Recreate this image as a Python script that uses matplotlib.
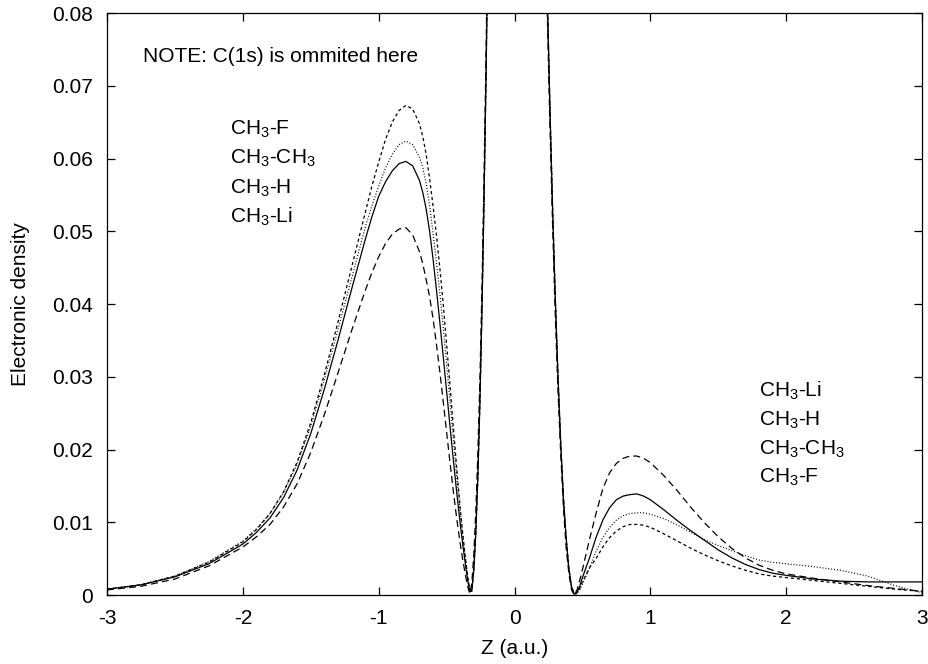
import matplotlib
matplotlib.use("Agg")
import matplotlib.pyplot as plt

plt.rcParams['font.family'] = ['Liberation Sans', 'DejaVu Sans']
plt.rcParams['mathtext.fontset'] = 'custom'
plt.rcParams['mathtext.rm'] = 'Liberation Sans'
plt.rcParams['mathtext.it'] = 'Liberation Sans:italic'
plt.rcParams['axes.unicode_minus'] = False
plt.rcParams['lines.scale_dashes'] = False

# Z grid (a.u.) and densities, one row per region
z = [-3.0, -2.75, -2.5, -2.25, -2.0, -1.9, -1.8, -1.7, -1.6, -1.5, -1.4, -1.3, -1.2,
     -1.1, -1.05, -1.0, -0.95, -0.9, -0.85, -0.8, -0.75, -0.7, -0.675, -0.65, -0.625,
     -0.6, -0.575, -0.55, -0.525, -0.5, -0.475, -0.45, -0.425, -0.4, -0.38, -0.36, -0.345, -0.33,
     -0.315, -0.3, -0.285, -0.27, -0.255, -0.24, -0.225, -0.21, -0.195, -0.18,
     -0.1, 0.0, 0.1,
     0.18, 0.2, 0.22, 0.24, 0.26, 0.28, 0.3, 0.32, 0.34, 0.36, 0.38, 0.4, 0.42, 0.44, 0.46,
     0.48, 0.5, 0.55, 0.6, 0.65, 0.7, 0.75, 0.8, 0.85, 0.9, 0.95, 1.0,
     1.1, 1.2, 1.3, 1.4, 1.5, 1.6, 1.7, 1.8, 1.9, 2.0, 2.2, 2.4, 2.6, 2.8, 3.0]

ch3_f = [0.0008, 0.0014, 0.0026, 0.0045, 0.0073, 0.0090, 0.0112, 0.0142, 0.0183, 0.0237, 0.0303, 0.0375, 0.0450,
         0.0525, 0.0562, 0.0595, 0.0626, 0.0650, 0.0666, 0.0673, 0.0668, 0.0648, 0.0630, 0.0605, 0.0572,
         0.0535, 0.0495, 0.0450, 0.0400, 0.0345, 0.0288, 0.0230, 0.0173, 0.0120, 0.0082, 0.0048, 0.0026, 0.0008,
         0.0005, 0.0034, 0.0086, 0.0163, 0.0265, 0.0390, 0.0540, 0.0710, 0.0910, 0.1130,
         0.30, 0.45, 0.35,
         0.150, 0.125, 0.101, 0.0833, 0.0674, 0.0532, 0.0408, 0.0300, 0.0208, 0.0133, 0.0078, 0.0036, 0.0011, 0.0001, 0.0003,
         0.0009, 0.0018, 0.0037, 0.0050, 0.0066, 0.0079, 0.0088, 0.0094, 0.0097, 0.0097, 0.0096, 0.0093,
         0.0084, 0.0074, 0.0064, 0.0055, 0.0047, 0.0040, 0.0034, 0.0029, 0.0026, 0.0024, 0.0020, 0.0016, 0.0012, 0.0008, 0.0005]

ch3_ch3 = [0.0008, 0.0014, 0.0026, 0.0046, 0.0074, 0.0091, 0.0112, 0.0141, 0.0180, 0.0232, 0.0296, 0.0365, 0.0435,
           0.0505, 0.0535, 0.0562, 0.0587, 0.0606, 0.0619, 0.0624, 0.0619, 0.0602, 0.0587, 0.0565, 0.0535,
           0.0498, 0.0458, 0.0415, 0.0368, 0.0318, 0.0266, 0.0213, 0.0162, 0.0115, 0.0079, 0.0047, 0.0025, 0.0007,
           0.0005, 0.0034, 0.0086, 0.0163, 0.0265, 0.0390, 0.0540, 0.0710, 0.0910, 0.1130,
           0.30, 0.45, 0.35,
           0.150, 0.125, 0.101, 0.0833, 0.0674, 0.0532, 0.0408, 0.0300, 0.0208, 0.0133, 0.0078, 0.0036, 0.0011, 0.0001, 0.0002,
           0.0007, 0.0015, 0.0036, 0.0060, 0.0079, 0.0093, 0.0103, 0.0109, 0.0112, 0.0113, 0.0113, 0.0111,
           0.0105, 0.0096, 0.0086, 0.0076, 0.0068, 0.0061, 0.0054, 0.0048, 0.0045, 0.0043, 0.0039, 0.0034, 0.0026, 0.0013, 0.0003]

ch3_h = [0.0008, 0.0014, 0.0025, 0.0043, 0.0070, 0.0086, 0.0106, 0.0134, 0.0172, 0.0222, 0.0283, 0.0350, 0.0420,
         0.0488, 0.0520, 0.0548, 0.0568, 0.0583, 0.0593, 0.0596, 0.0590, 0.0570, 0.0553, 0.0530, 0.0500,
         0.0462, 0.0420, 0.0375, 0.0328, 0.0280, 0.0232, 0.0185, 0.0140, 0.0098, 0.0068, 0.0040, 0.0020, 0.0005,
         0.0005, 0.0034, 0.0086, 0.0163, 0.0265, 0.0390, 0.0540, 0.0710, 0.0910, 0.1130,
         0.30, 0.45, 0.35,
         0.150, 0.125, 0.101, 0.0833, 0.0674, 0.0532, 0.0408, 0.0300, 0.0208, 0.0133, 0.0078, 0.0036, 0.0011, 0.0001, 0.0004,
         0.0012, 0.0024, 0.0050, 0.0079, 0.0103, 0.0120, 0.0131, 0.0136, 0.0138, 0.0139, 0.0136, 0.0131,
         0.0117, 0.0102, 0.0088, 0.0075, 0.0062, 0.0051, 0.0042, 0.0035, 0.0030, 0.0027, 0.0022, 0.0019, 0.0018, 0.0018, 0.0018]

ch3_li = [0.0007, 0.0012, 0.0022, 0.0040, 0.0066, 0.0080, 0.0097, 0.0121, 0.0153, 0.0196, 0.0248, 0.0305, 0.0363,
          0.0418, 0.0443, 0.0465, 0.0483, 0.0496, 0.0503, 0.0505, 0.0495, 0.0472, 0.0455, 0.0433, 0.0410,
          0.0380, 0.0345, 0.0307, 0.0266, 0.0224, 0.0182, 0.0142, 0.0104, 0.0071, 0.0047, 0.0026, 0.0012, 0.0002,
          0.0015, 0.0055, 0.0115, 0.0195, 0.0295, 0.0420, 0.0570, 0.0740, 0.0940, 0.1160,
          0.30, 0.45, 0.35,
          0.150, 0.123, 0.099, 0.0810, 0.0650, 0.0510, 0.0385, 0.0280, 0.0195, 0.0120, 0.0065, 0.0030, 0.0007, 0.0000, 0.0007,
          0.0020, 0.0035, 0.0075, 0.0112, 0.0146, 0.0168, 0.0181, 0.0188, 0.0191, 0.0191, 0.0188, 0.0182,
          0.0164, 0.0143, 0.0120, 0.0099, 0.0080, 0.0064, 0.0051, 0.0041, 0.0034, 0.0029, 0.0023, 0.0018, 0.0013, 0.0009, 0.0005]

xticks = [-3, -2, -1, 0, 1, 2, 3]
yticks = [0, 0.01, 0.02, 0.03, 0.04, 0.05, 0.06, 0.07, 0.08]
ytick_labels = ['0', '0.01', '0.02', '0.03', '0.04', '0.05', '0.06', '0.07', '0.08']

left_labels = [r'CH$_3$-F', r'CH$_3$-CH$_3$', r'CH$_3$-H', r'CH$_3$-Li']
right_labels = [r'CH$_3$-Li', r'CH$_3$-H', r'CH$_3$-CH$_3$', r'CH$_3$-F']

fig = plt.figure(figsize=(9.29, 6.64), dpi=100)
ax = fig.add_axes([0.1152, 0.1039, 0.8773, 0.8765])

lw = 0.9
ax.plot(z, ch3_f, color='black', lw=lw, dashes=(2.3, 2.0))
ax.plot(z, ch3_ch3, color='black', lw=lw, dashes=(0.7, 1.4))
ax.plot(z, ch3_h, color='black', lw=lw)
ax.plot(z, ch3_li, color='black', lw=lw, dashes=(5.0, 3.0))

ax.set_xlim(-3, 3)
ax.set_ylim(0, 0.08)
ax.set_xticks(xticks)
ax.set_xticklabels([str(t) for t in xticks])
ax.set_yticks(yticks)
ax.set_yticklabels(ytick_labels)
ax.tick_params(direction='in', length=6, width=0.9, top=True, right=True, labelsize=15)
ax.tick_params(axis='x', pad=10)
ax.tick_params(axis='y', pad=10)
for s in ax.spines.values():
    s.set_linewidth(0.9)

ax.set_xlabel('Z (a.u.)', fontsize=15, labelpad=8)
ax.set_ylabel('Electronic density', fontsize=15, labelpad=16)

ax.text(-2.736, 0.0733, 'NOTE: C(1s) is ommited here', fontsize=15, va='baseline')

for i, lab in enumerate(left_labels):
    ax.text(-2.095, [0.06332, 0.05934, 0.05522, 0.05124][i], lab, fontsize=15, va='baseline')
for i, lab in enumerate(right_labels):
    ax.text(1.80, [0.02727, 0.02328, 0.01930, 0.01538][i], lab, fontsize=15, va='baseline')

fig.savefig('out.png', dpi=100)
